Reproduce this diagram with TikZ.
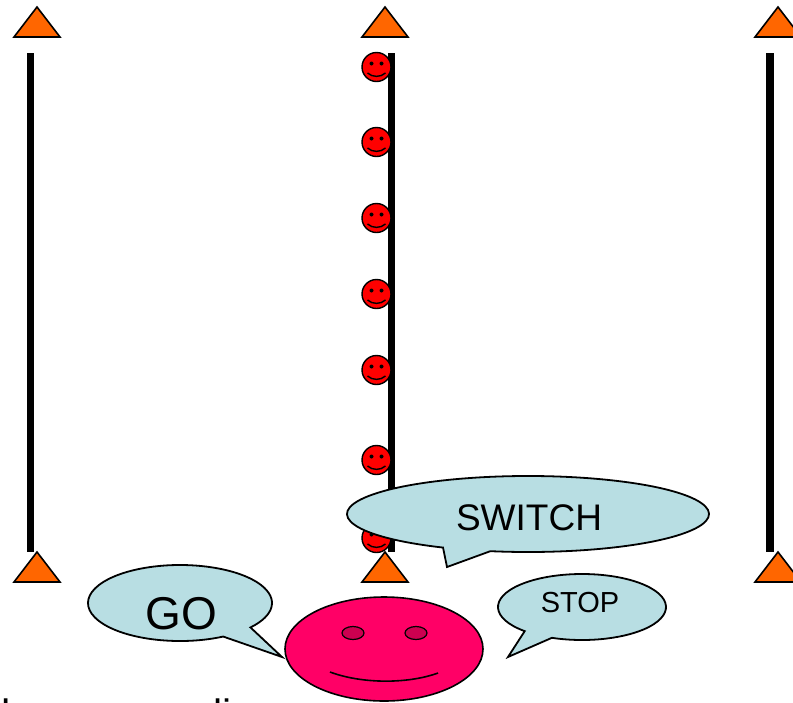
\documentclass[tikz,border=0pt]{standalone}
\usepackage{fontspec}
\setmainfont{Liberation Sans}
\definecolor{coneorange}{RGB}{255,102,0}
\definecolor{kidred}{RGB}{255,0,0}
\definecolor{bubblefill}{RGB}{184,222,227}
\definecolor{leaderpink}{RGB}{255,0,102}
\definecolor{eyecrimson}{RGB}{204,0,80}
\tikzset{
  pole/.style={line width=7.5pt, line cap=butt},
  cone/.style={fill=coneorange, draw=black, line width=1.6pt, line join=miter},
  kid/.style={fill=kidred, draw=black, line width=1.4pt},
  kidsmile/.style={line width=1.4pt},
  bubble/.style={fill=bubblefill, draw=black, line width=1.8pt, line join=miter},
  say/.style={inner sep=0pt, text=black},
  leader/.style={fill=leaderpink, draw=black, line width=1.6pt},
  leadereye/.style={fill=eyecrimson, draw=black, line width=1.2pt},
}
% one orange cone, apex at (#1,#2)
\newcommand\drawcone[2]{\filldraw[cone] (#1,#2) -- ++(-23,30) -- ++(46,0) -- cycle;}
% one small smiling face centred at (#1,#2)
\newcommand\drawkid[2]{%
  \begin{scope}[shift={(#1,#2)}]
    \filldraw[kid] (0,0) circle[radius=14.5];
    \fill (-5,-3.5) circle[radius=2];
    \fill (5,-3.5) circle[radius=2];
    \draw[kidsmile] (-9,6) .. controls (-4,10.5) and (4,10.5) .. (9,6);
  \end{scope}}
\begin{document}
\begin{tikzpicture}[x=1pt,y=-1pt]
\useasboundingbox (0,0) rectangle (793,702);
\clip (0,0) rectangle (793,702);

% three lines
\draw[pole] (30.5,53) -- (30.5,552);
\draw[pole] (391.5,53) -- (391.5,552);
\draw[pole] (770,53) -- (770,552);

% cones at both ends of each line
\foreach \cx in {37,385,778} {
  \drawcone{\cx}{7}
  \drawcone{\cx}{552}
}

% players standing along the middle line
\foreach \ky in {67,142,218,294,370,460,538} {
  \drawkid{376.5}{\ky}
}

% speech bubbles: tail from the ellipse out to its tip, then the long arc back
\filldraw[bubble] ({528+181*cos(102)},{514+38*sin(102)}) -- (447,567)
  -- ({528+181*cos(118)},{514+38*sin(118)})
  arc[start angle=118, end angle=462, x radius=181, y radius=38] -- cycle;
\node[say, font=\fontsize{37}{37}\selectfont] (switch) at (529,517.5) {SWITCH};

\filldraw[bubble] ({180+92*cos(40)},{603+38*sin(40)}) -- (282,657)
  -- ({180+92*cos(62)},{603+38*sin(62)})
  arc[start angle=62, end angle=400, x radius=92, y radius=38] -- cycle;
\node[say, font=\fontsize{46}{46}\selectfont] (go) at (181,613.5) {GO};

\filldraw[bubble] ({582+84*cos(111)},{607+33*sin(111)}) -- (508,657)
  -- ({582+84*cos(133)},{607+33*sin(133)})
  arc[start angle=133, end angle=471, x radius=84, y radius=33] -- cycle;
\node[say, font=\fontsize{29}{29}\selectfont] (stop) at (580,602.5) {STOP};

% the leader's face
\filldraw[leader] (384,649) ellipse[x radius=99, y radius=52];
\filldraw[leadereye] (353,633) ellipse[x radius=11, y radius=6.5];
\filldraw[leadereye] (416,633) ellipse[x radius=11, y radius=6.5];
\draw[line width=1.6pt] (330,672) .. controls (362,684) and (408,684) .. (438,673);

% caption running off the lower edge
\node[anchor=base west, inner sep=0pt, font=\fontsize{41}{41}\selectfont] (caption) at (1,728) {hop across lines};
\end{tikzpicture}
\end{document}
